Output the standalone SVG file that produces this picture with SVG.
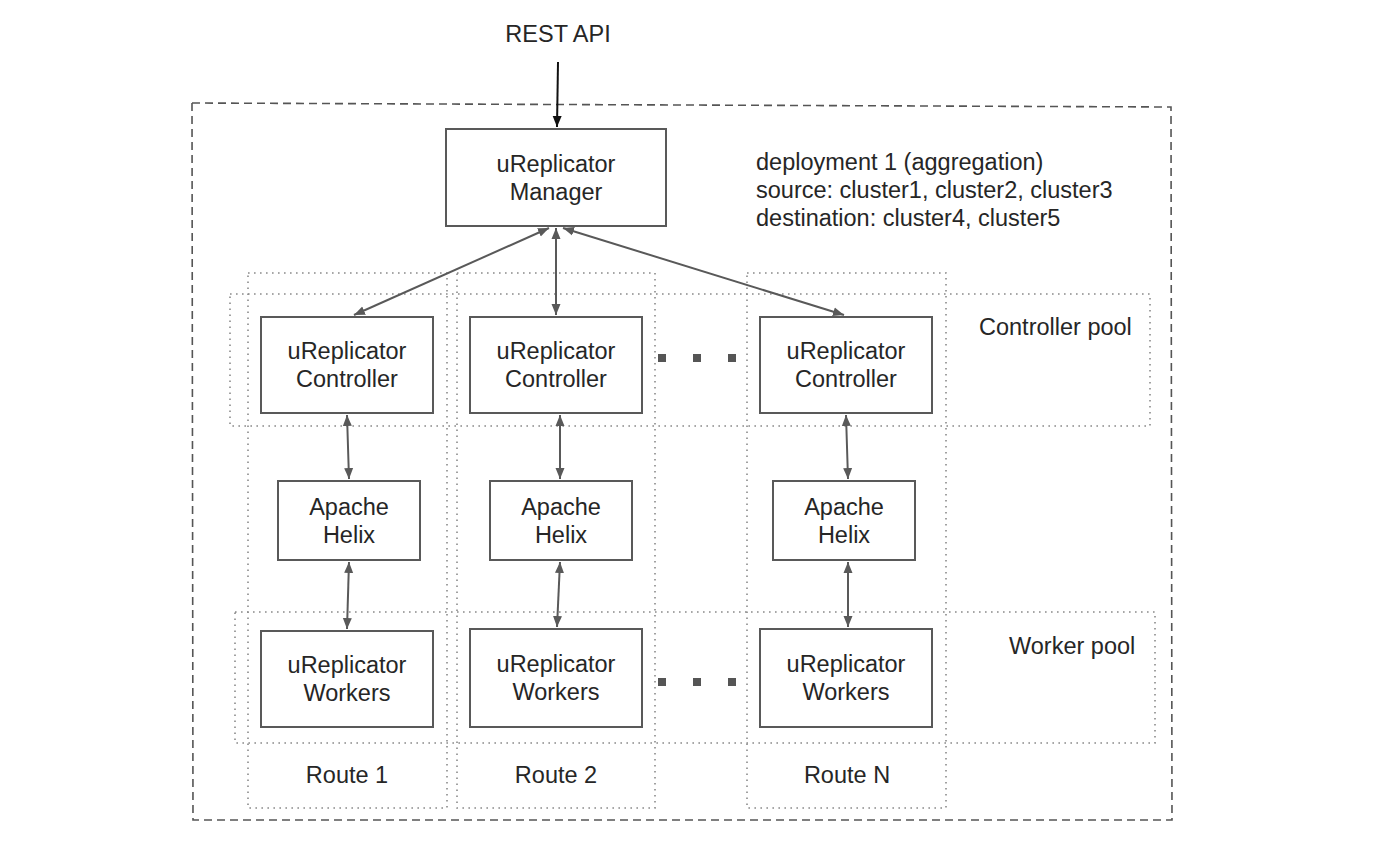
<svg xmlns="http://www.w3.org/2000/svg" width="1380" height="852" viewBox="0 0 1380 852">
<style>
.t{font-family:"Liberation Sans",Arial,sans-serif;font-size:23.5px;fill:#262626}
.c{text-anchor:middle}
.box{fill:#fff;stroke:#595959;stroke-width:2}
.dot{fill:none;stroke:#8a8a8a;stroke-width:1.6;stroke-dasharray:1.6 4.4}
.arr{stroke:#595959;stroke-width:2;fill:none;marker-start:url(#ah);marker-end:url(#ah)}
.sq{fill:#555}
</style>
<defs>
<marker id="ah" markerUnits="userSpaceOnUse" markerWidth="12" markerHeight="10" refX="11" refY="5" orient="auto-start-reverse"><path d="M0,0.5 L11,5 L0,9.5 z" fill="#595959"/></marker>
<marker id="ahb" markerUnits="userSpaceOnUse" markerWidth="12" markerHeight="10" refX="11" refY="5" orient="auto"><path d="M0,0.5 L11,5 L0,9.5 z" fill="#111"/></marker>
</defs>
<rect width="1380" height="852" fill="#fff"/>

<g id="deployment-frame">
<path d="M192,103 L1171,107 L1172,820 L193,820 Z" fill="none" stroke="#555" stroke-width="1.6" stroke-dasharray="8 5"/>
</g>

<g id="pools">
<rect id="route1-col" class="dot" x="248" y="273" width="199" height="535"/>
<rect id="route2-col" class="dot" x="457" y="273" width="198" height="535"/>
<rect id="routeN-col" class="dot" x="747" y="273" width="199" height="535"/>
<rect id="controller-pool" class="dot" x="230" y="294" width="920" height="132"/>
<rect id="worker-pool" class="dot" x="235" y="612" width="920" height="131"/>
</g>

<g id="connectors">
<line x1="558" y1="62" x2="557" y2="127" stroke="#111" stroke-width="2" marker-end="url(#ahb)"/>
<line class="arr" x1="549" y1="228" x2="354" y2="315"/>
<line class="arr" x1="556" y1="228" x2="556" y2="315"/>
<line class="arr" x1="563" y1="228" x2="844" y2="315"/>
<line class="arr" x1="347" y1="415" x2="349" y2="479"/>
<line class="arr" x1="349" y1="562" x2="347" y2="629"/>
<line class="arr" x1="560" y1="415" x2="560" y2="479"/>
<line class="arr" x1="560" y1="562" x2="557" y2="627"/>
<line class="arr" x1="846" y1="415" x2="848" y2="479"/>
<line class="arr" x1="848" y1="562" x2="848" y2="627"/>
</g>

<g id="rest-api"><text class="t c" x="558" y="42">REST API</text></g>

<g id="manager">
<rect class="box" x="446" y="129" width="220" height="97"/>
<text class="t c" x="556" y="172">uReplicator</text>
<text class="t c" x="556" y="200">Manager</text>
</g>

<g id="deployment-label">
<text class="t" x="756" y="170">deployment 1 (aggregation)</text>
<text class="t" x="756" y="198">source: cluster1, cluster2, cluster3</text>
<text class="t" x="756" y="226">destination: cluster4, cluster5</text>
</g>

<g id="controller1">
<rect class="box" x="261" y="317" width="172" height="96"/>
<text class="t c" x="347" y="359">uReplicator</text>
<text class="t c" x="347" y="387">Controller</text>
</g>
<g id="controller2">
<rect class="box" x="470" y="317" width="172" height="96"/>
<text class="t c" x="556" y="359">uReplicator</text>
<text class="t c" x="556" y="387">Controller</text>
</g>
<g id="controllerN">
<rect class="box" x="760" y="317" width="172" height="96"/>
<text class="t c" x="846" y="359">uReplicator</text>
<text class="t c" x="846" y="387">Controller</text>
</g>

<g id="helix1">
<rect class="box" x="278" y="481" width="142" height="79"/>
<text class="t c" x="349" y="515">Apache</text>
<text class="t c" x="349" y="543">Helix</text>
</g>
<g id="helix2">
<rect class="box" x="490" y="481" width="142" height="79"/>
<text class="t c" x="561" y="515">Apache</text>
<text class="t c" x="561" y="543">Helix</text>
</g>
<g id="helixN">
<rect class="box" x="773" y="481" width="142" height="79"/>
<text class="t c" x="844" y="515">Apache</text>
<text class="t c" x="844" y="543">Helix</text>
</g>

<g id="workers1">
<rect class="box" x="261" y="631" width="172" height="96"/>
<text class="t c" x="347" y="673">uReplicator</text>
<text class="t c" x="347" y="701">Workers</text>
</g>
<g id="workers2">
<rect class="box" x="470" y="629" width="172" height="98"/>
<text class="t c" x="556" y="672">uReplicator</text>
<text class="t c" x="556" y="700">Workers</text>
</g>
<g id="workersN">
<rect class="box" x="760" y="629" width="172" height="98"/>
<text class="t c" x="846" y="672">uReplicator</text>
<text class="t c" x="846" y="700">Workers</text>
</g>

<g id="ellipsis-controllers">
<rect class="sq" x="658" y="354" width="8" height="8"/>
<rect class="sq" x="693" y="354" width="8" height="8"/>
<rect class="sq" x="728" y="354" width="8" height="8"/>
</g>
<g id="ellipsis-workers">
<rect class="sq" x="658" y="678" width="8" height="8"/>
<rect class="sq" x="693" y="678" width="8" height="8"/>
<rect class="sq" x="728" y="678" width="8" height="8"/>
</g>

<g id="labels">
<text class="t" x="979" y="335">Controller pool</text>
<text class="t" x="1009" y="654">Worker pool</text>
<text class="t c" x="347" y="783">Route 1</text>
<text class="t c" x="556" y="783">Route 2</text>
<text class="t c" x="847" y="783">Route N</text>
</g>
</svg>
